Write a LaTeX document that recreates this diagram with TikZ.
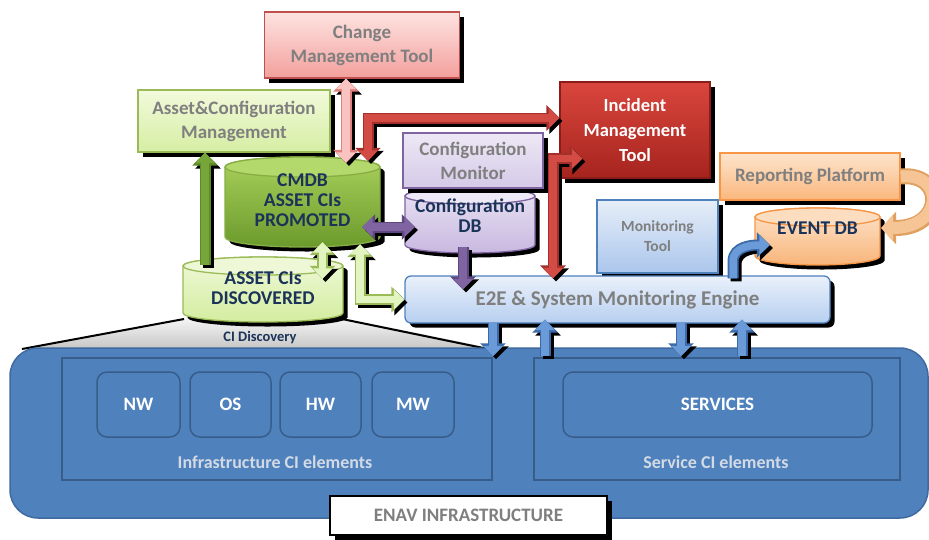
\documentclass[tikz,border=0pt]{standalone}
\usepackage{fontspec}
\setmainfont{Carlito}
\usetikzlibrary{arrows.meta,shadows}
\definecolor{txtgray}{HTML}{7F7F7F}
\definecolor{navy}{HTML}{1B3358}
\definecolor{chTop}{HTML}{FDE3E1}\definecolor{chBot}{HTML}{F3A09C}\definecolor{chBorder}{HTML}{C0504D}
\definecolor{acTop}{HTML}{F2FADC}\definecolor{acBot}{HTML}{D6EEA3}\definecolor{acBorder}{HTML}{9BBB59}
\definecolor{cmdbTop}{HTML}{A9D15B}\definecolor{cmdbBot}{HTML}{6B9A2C}\definecolor{cmdbEll}{HTML}{B3D86C}\definecolor{cmdbBorder}{HTML}{86AE45}
\definecolor{discTop}{HTML}{F0F9D9}\definecolor{discBot}{HTML}{D3ED9F}\definecolor{discEll}{HTML}{EEF8D6}
\definecolor{cmTop}{HTML}{EDE8F5}\definecolor{cmBot}{HTML}{D5CAE8}\definecolor{purpBorder}{HTML}{8064A2}
\definecolor{cdbTop}{HTML}{E9E3F3}\definecolor{cdbBot}{HTML}{C8B8E0}\definecolor{cdbEll}{HTML}{EEE9F6}
\definecolor{incTop}{HTML}{D9463D}\definecolor{incBot}{HTML}{A6241E}\definecolor{incBorder}{HTML}{8C1C17}
\definecolor{repTop}{HTML}{FDE4CC}\definecolor{repBot}{HTML}{FAB77D}\definecolor{orBorder}{HTML}{F79646}
\definecolor{evBot}{HTML}{F8B57A}\definecolor{evEll}{HTML}{FCDDBF}
\definecolor{mtTop}{HTML}{E6EEF8}\definecolor{mtBot}{HTML}{ABC6EC}\definecolor{blueBorder}{HTML}{4F81BD}
\definecolor{e2eTop}{HTML}{EAF1FB}\definecolor{e2eBot}{HTML}{B7CFF0}
\definecolor{enavFill}{HTML}{4F81BD}\definecolor{enavBorder}{HTML}{3E6AA0}\definecolor{innerBorder}{HTML}{385D8A}
\definecolor{lbl}{HTML}{D3DAE4}
\definecolor{pinkF}{HTML}{F8C3C0}\definecolor{pinkB}{HTML}{E0807C}
\definecolor{redF}{HTML}{D24B44}\definecolor{redB}{HTML}{A3302B}
\definecolor{dgF}{HTML}{76A63A}\definecolor{dgB}{HTML}{5E8A2A}
\definecolor{lgF}{HTML}{E2F4BF}\definecolor{lgB}{HTML}{9BBB59}
\definecolor{puF}{HTML}{8064A2}\definecolor{puB}{HTML}{5F4880}
\definecolor{blF}{HTML}{6A9BD8}\definecolor{blB}{HTML}{3A6AA8}
\definecolor{orF}{HTML}{F5C596}\definecolor{orB}{HTML}{E0A060}
\tikzset{
  sh/.style={drop shadow={shadow xshift=4.5pt,shadow yshift=-4.5pt,opacity=1,fill=black}},
  box/.style={rectangle, draw, line width=1.3pt, align=center, inner sep=2pt, sh},
  gtxt/.style={text=txtgray, font=\bfseries\fontsize{19}{24}\selectfont},
  ntxt/.style={text=navy, align=center, font=\bfseries\fontsize{19.5}{20}\selectfont},
  wtxt/.style={text=white, font=\bfseries\fontsize{19}{22}\selectfont},
  ltxt/.style={text=lbl, font=\bfseries\fontsize{18}{20}\selectfont},
  hold/.style={rectangle, inner sep=0pt},
  elem/.style={rectangle, rounded corners=10pt, draw=innerBorder, line width=1.5pt, wtxt},
  area/.style={rectangle, draw=innerBorder, line width=2pt},
  bord/.style={line width=11pt, >={Triangle[length=13pt,width=25pt]}},
  fil/.style={line width=7.5pt, >={Triangle[length=10.5pt,width=19.5pt]}},
}
\newcommand\barrow[4]{%
  \draw[bord,#3,draw=black,transform canvas={shift={(3pt,-3pt)}}] #4;
  \draw[bord,#3,draw=#2] #4;
  \draw[fil,#3,draw=#1] #4;}
% cx, half width, top y, bottom y, ry, body shading, ellipse fill, border
\newcommand\cyl[8]{%
  \fill[black, transform canvas={shift={(4.5pt,-4.5pt)}}] (#1-#2,#3+#5) -- (#1-#2,#4-#5) arc[start angle=180,end angle=360,x radius=#2pt,y radius=#5pt] -- (#1+#2,#3+#5) arc[start angle=0,end angle=180,x radius=#2pt,y radius=#5pt] -- cycle;
  \shade[#6] (#1-#2,#3+#5) -- (#1-#2,#4-#5) arc[start angle=180,end angle=360,x radius=#2pt,y radius=#5pt] -- (#1+#2,#3+#5) arc[start angle=0,end angle=180,x radius=#2pt,y radius=#5pt] -- cycle;
  \draw[draw=#8, line width=1.3pt] (#1-#2,#3+#5) -- (#1-#2,#4-#5) arc[start angle=180,end angle=360,x radius=#2pt,y radius=#5pt] -- (#1+#2,#3+#5) arc[start angle=0,end angle=180,x radius=#2pt,y radius=#5pt] -- cycle;
  \filldraw[fill=#7, draw=#8, line width=1.3pt] (#1,#3+#5) ellipse[x radius=#2pt, y radius=#5pt];}
\begin{document}
\begin{tikzpicture}[x=1pt,y=-1pt]
\useasboundingbox (0,0) rectangle (929,539);
% CI discovery funnel
\shade[top color=gray!8, bottom color=gray!45] (183,318) -- (343,318) -- (495,349) -- (20,349) -- cycle;
\draw[line width=2pt] (184,319) -- (22,349);
\draw[line width=2pt] (342,319) -- (488,349);
% infrastructure
\node[draw=enavBorder, fill=enavFill, line width=1.5pt, rounded corners=28pt, minimum width=918pt, minimum height=170pt] (enav) at (469,433) {};
\node[area, minimum width=430pt, minimum height=122pt] (infra) at (277,419) {};
\node[area, minimum width=366pt, minimum height=122pt] (serv) at (717,419) {};
\node[elem, minimum width=83pt, minimum height=65pt] (nw) at (138.5,404.5) {NW};
\node[elem, minimum width=81pt, minimum height=65pt] (os) at (230.5,404.5) {OS};
\node[elem, minimum width=81pt, minimum height=65pt] (hw) at (320.5,404.5) {HW};
\node[elem, minimum width=82pt, minimum height=65pt] (mw) at (413,404.5) {MW};
\node[elem, minimum width=309pt, minimum height=65pt] (services) at (717.5,404.5) {SERVICES};
\node[ltxt] (infralbl) at (275,462) {Infrastructure CI elements};
\node[ltxt] (servlbl) at (716,462) {Service CI elements};
\node[rectangle, fill=white, draw=black, line width=1.5pt, sh, minimum width=277pt, minimum height=39pt, text=txtgray, font=\bfseries\fontsize{19}{22}\selectfont] (enavlbl) at (468.5,515.5) {ENAV INFRASTRUCTURE};
\node[text=navy, font=\bfseries\fontsize{14.5}{16}\selectfont] (cidisc) at (260,338) {CI Discovery};
% top boxes
\node[box, top color=chTop, bottom color=chBot, draw=chBorder, minimum width=195pt, minimum height=66pt, gtxt] (change) at (362,45) {Change\\Management Tool};
\node[box, top color=acTop, bottom color=acBot, draw=acBorder, minimum width=192pt, minimum height=62pt, gtxt] (asset) at (234,121) {Asset\&Configuration\\Management};
\node[box, top color=incTop, bottom color=incBot, draw=incBorder, minimum width=150pt, minimum height=96pt, wtxt, font=\bfseries\fontsize{18.5}{25}\selectfont] (incident) at (635,130) {Incident\\Management\\Tool};
\node[box, top color=repTop, bottom color=repBot, draw=orBorder, minimum width=180pt, minimum height=47pt, gtxt] (report) at (810,176.5) {Reporting Platform};
\node[box, top color=mtTop, bottom color=mtBot, draw=blueBorder, minimum width=121pt, minimum height=73pt, gtxt, font=\bfseries\fontsize{15.5}{20}\selectfont] (montool) at (657.5,236.5) {Monitoring\\Tool};
% cylinders
\cyl{263}{80}{257}{322}{9}{top color=discTop,bottom color=discBot}{discEll}{acBorder}
\node[hold, minimum width=160pt, minimum height=65pt] (disc) at (263,289.5) {};
\node[ntxt] (disctxt) at (263,288) {ASSET CIs\\DISCOVERED};
\cyl{302.5}{77.5}{157}{247}{10}{top color=cmdbTop,bottom color=cmdbBot}{cmdbEll}{cmdbBorder}
\node[hold, minimum width=155pt, minimum height=90pt] (cmdb) at (302.5,202) {};
\node[ntxt] (cmdbtxt) at (302.5,200) {CMDB\\ASSET CIs\\PROMOTED};
\cyl{470}{65}{188}{253}{8}{top color=cdbTop,bottom color=cdbBot}{cdbEll}{purpBorder}
\node[hold, minimum width=130pt, minimum height=65pt] (cfgdb) at (470,220.5) {};
\node[ntxt] (cfgdbtxt) at (470,216) {Configuration\\DB};
\node[box, top color=cmTop, bottom color=cmBot, draw=purpBorder, minimum width=140pt, minimum height=55pt, gtxt] (cfgmon) at (473,160.5) {Configuration\\Monitor};
\cyl{817.5}{62.5}{208}{265}{9}{top color=repTop,bottom color=evBot}{evEll}{orBorder}
\node[hold, minimum width=125pt, minimum height=57pt] (evdb) at (817.5,236.5) {};
\node[ntxt] (evdbtxt) at (817.5,228) {EVENT DB};
% engine
\node[box, rounded corners=6pt, top color=e2eTop, bottom color=e2eBot, draw=blueBorder, minimum width=425pt, minimum height=47pt, text=txtgray, font=\bfseries\fontsize{21}{24}\selectfont] (e2e) at (617.5,299.5) {E2E \& System Monitoring Engine};
% orange loop
\draw[line width=16pt, draw=orB, -{Triangle[length=15pt,width=32pt]}] (report.east) .. controls (945,172) and (945,228) .. ([xshift=1pt,yshift=8.5pt]evdb.east);
\draw[line width=12pt, draw=orF, -{Triangle[length=12pt,width=27pt]}] (report.east) .. controls (945,172) and (945,228) .. ([xshift=1pt,yshift=8.5pt]evdb.east);
% arrows
\barrow{pinkF}{pinkB}{<->}{([xshift=-16pt]change.south) -- ([xshift=43.5pt,yshift=-6pt]cmdb.north)}
\barrow{redF}{redB}{<->}{([xshift=65.5pt,yshift=-4pt]cmdb.north) |- ([yshift=12pt]incident.west)}
\barrow{redF}{redB}{<->}{([xshift=-64.5pt,yshift=-3pt]e2e.north) |- ([xshift=23pt,yshift=20pt]incident.south west)}
\barrow{dgF}{dgB}{->}{([xshift=-58pt,yshift=-8pt]disc.north) -- ([xshift=-29pt]asset.south)}
\barrow{lgF}{lgB}{<->}{([xshift=20pt,yshift=5pt]cmdb.south) -- ([xshift=59.5pt,yshift=-22pt]disc.north)}
\barrow{lgF}{lgB}{<->}{([xshift=57.5pt,yshift=3pt]cmdb.south) |- (e2e.west)}
\barrow{puF}{puB}{<->}{([xshift=-18pt,yshift=-25pt]cmdb.east) -- ([xshift=10pt,yshift=-6.5pt]cfgdb.west)}
\barrow{puF}{puB}{->}{([xshift=-7pt,yshift=6pt]cfgdb.south) -- ([xshift=-154.5pt,yshift=-14pt]e2e.north)}
\barrow{blF}{blB}{->}{([xshift=-124.5pt,yshift=1pt]e2e.south) -- ([xshift=24pt,yshift=-9pt]enav.north)}
\barrow{blF}{blB}{->}{([xshift=76pt,yshift=-9pt]enav.north) -- ([xshift=-72.5pt,yshift=4pt]e2e.south)}
\barrow{blF}{blB}{->}{([xshift=63.5pt,yshift=1pt]e2e.south) -- ([xshift=212pt,yshift=-9pt]enav.north)}
\barrow{blF}{blB}{->}{([xshift=273pt,yshift=-9pt]enav.north) -- ([xshift=124.5pt,yshift=4pt]e2e.south)}
\barrow{blF}{blB}{->}{([xshift=115.5pt,yshift=-3pt]e2e.north) -- ([xshift=115.5pt,yshift=14pt]e2e.north) to[out=90,in=180] ([xshift=15pt,yshift=-8.5pt]evdb.west)}
\end{tikzpicture}
\end{document}
